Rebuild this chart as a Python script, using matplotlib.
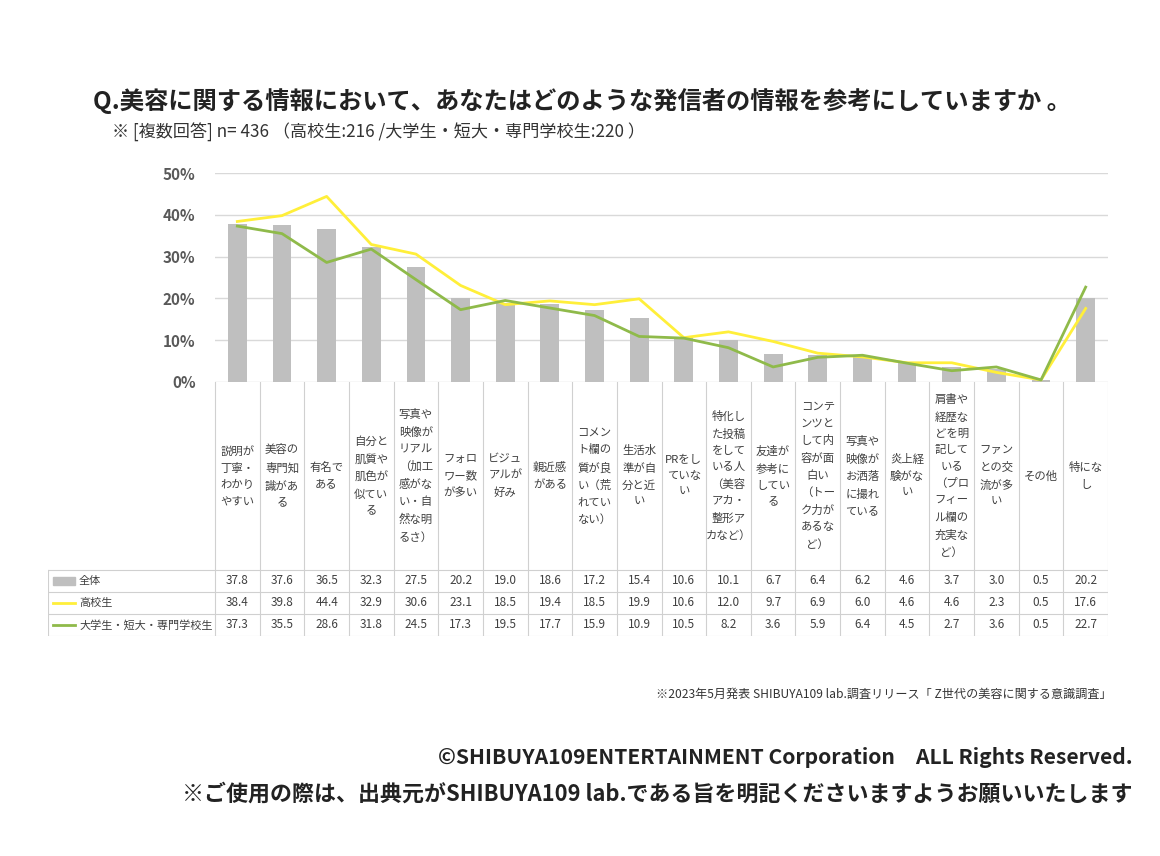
import matplotlib
matplotlib.use("Agg")
import matplotlib.pyplot as plt
import numpy as np

plt.rcParams["font.family"] = "Noto Sans CJK JP"

categories = ["説明が\n丁寧・\nわかり\nやすい", "美容の\n専門知\n識があ\nる", "有名で\nある",
              "自分と\n肌質や\n肌色が\n似てい\nる", "写真や\n映像が\nリアル\n（加工\n感がな\nい・自\n然な明\nるさ）",
              "フォロ\nワー数\nが多い", "ビジュ\nアルが\n好み", "親近感\nがある",
              "コメン\nト欄の\n質が良\nい（荒\nれてい\nない）", "生活水\n準が自\n分と近\nい",
              "PRをし\nていな\nい", "特化し\nた投稿\nをして\nいる人\n（美容\nアカ・\n整形ア\nカなど）",
              "友達が\n参考に\nしてい\nる", "コンテ\nンツと\nして内\n容が面\n白い\n（トー\nク力が\nあるな\nど）",
              "写真や\n映像が\nお洒落\nに撮れ\nている", "炎上経\n験がな\nい",
              "肩書や\n経歴な\nどを明\n記して\nいる\n（プロ\nフィー\nル欄の\n充実な\nど）",
              "ファン\nとの交\n流が多\nい", "その他", "特にな\nし"]
series_names = ["全体", "高校生", "大学生・短大・専門学校生"]
total = [37.8, 37.6, 36.5, 32.3, 27.5, 20.2, 19.0, 18.6, 17.2, 15.4, 10.6, 10.1, 6.7, 6.4, 6.2, 4.6, 3.7, 3.0, 0.5, 20.2]
high = [38.4, 39.8, 44.4, 32.9, 30.6, 23.1, 18.5, 19.4, 18.5, 19.9, 10.6, 12.0, 9.7, 6.9, 6.0, 4.6, 4.6, 2.3, 0.5, 17.6]
univ = [37.3, 35.5, 28.6, 31.8, 24.5, 17.3, 19.5, 17.7, 15.9, 10.9, 10.5, 8.2, 3.6, 5.9, 6.4, 4.5, 2.7, 3.6, 0.5, 22.7]
yticks = [0, 10, 20, 30, 40, 50]

W, H = 1160, 856
fig = plt.figure(figsize=(W/100, H/100), dpi=100)
def fx(px): return px / W
def fy(py): return 1 - py / H

x0, x1 = 215, 1108
ax = fig.add_axes([fx(x0), fy(382), fx(x1 - x0), fy(173) - fy(382)])
n = len(categories)
x = np.arange(n)
gray, yellow, green = "#bfbfbf", "#ffef3a", "#8fba4a"
ax.bar(x, total, width=0.42, color=gray, zorder=2)
ax.plot(x, high, color=yellow, lw=2, zorder=3)
ax.plot(x, univ, color=green, lw=2, zorder=4)
ax.set_xlim(-0.5, n - 0.5)
ax.set_ylim(0, 50)
ax.set_yticks(yticks)
ax.set_yticklabels([f"{t}%" for t in yticks], fontsize=11, color="#595959", fontweight="bold")
ax.grid(axis="y", color="#d9d9d9", lw=1, zorder=0)
ax.set_xticks([])
for s in ax.spines.values():
    s.set_visible(False)
ax.tick_params(axis="y", length=0, pad=14)

# table
tab = fig.add_axes([fx(48), fy(636), fx(x1 - 48), fy(382) - fy(636)])
tab.set_xlim(48, x1); tab.set_ylim(636, 382); tab.axis("off")
cw = (x1 - x0) / n
lc = "#d0d0d0"
rows_y = [382, 570, 592, 614, 636]
for i in range(n + 1):
    xx = x0 + i * cw
    tab.plot([xx, xx], [382, 636], color=lc, lw=0.8)
tab.plot([48, 48], [570, 636], color=lc, lw=0.8)
for yy in rows_y[1:]:
    tab.plot([48, x1], [yy, yy], color=lc, lw=0.8)
for i, c in enumerate(categories):
    tab.text(x0 + (i + 0.5) * cw, 476, c, ha="center", va="center", fontsize=8.2,
             color="#404040", linespacing=1.75)
vals = [total, high, univ]
for r, (name, v) in enumerate(zip(series_names, vals)):
    yc = (rows_y[r + 1] + rows_y[r + 2]) / 2
    if r == 0:
        tab.add_patch(plt.Rectangle((53, yc - 4), 22, 8, color=gray))
    else:
        tab.plot([53, 75], [yc, yc], color=[yellow, green][r - 1], lw=2)
    tab.text(79, yc, name, ha="left", va="center", fontsize=8, color="#404040")
    for i, val in enumerate(v):
        tab.text(x0 + (i + 0.5) * cw, yc, f"{val:.1f}", ha="center", va="center",
                 fontsize=8.5, color="#404040")

fig.text(fx(93), fy(101), "Q.美容に関する情報において、あなたはどのような発信者の情報を参考にしていますか 。",
         fontsize=17.5, fontweight="bold", color="#222222", va="center")
fig.text(fx(112), fy(132), "※ [複数回答] n= 436 （高校生:216 /大学生・短大・専門学校生:220 ）",
         fontsize=12.3, color="#333333", va="center")
fig.text(fx(1112), fy(694), "※2023年5月発表 SHIBUYA109 lab.調査リリース「 Z世代の美容に関する意識調査」",
         fontsize=8.7, color="#333333", ha="right", va="center")
fig.text(fx(1133), fy(757), "©SHIBUYA109ENTERTAINMENT Corporation　ALL Rights Reserved.",
         fontsize=15.2, fontweight="bold", color="#222222", ha="right", va="center")
fig.text(fx(1133), fy(794), "※ご使用の際は、出典元がSHIBUYA109 lab.である旨を明記くださいますようお願いいたします",
         fontsize=15.8, fontweight="bold", color="#222222", ha="right", va="center")

fig.savefig("out.png", dpi=100, facecolor="white")
